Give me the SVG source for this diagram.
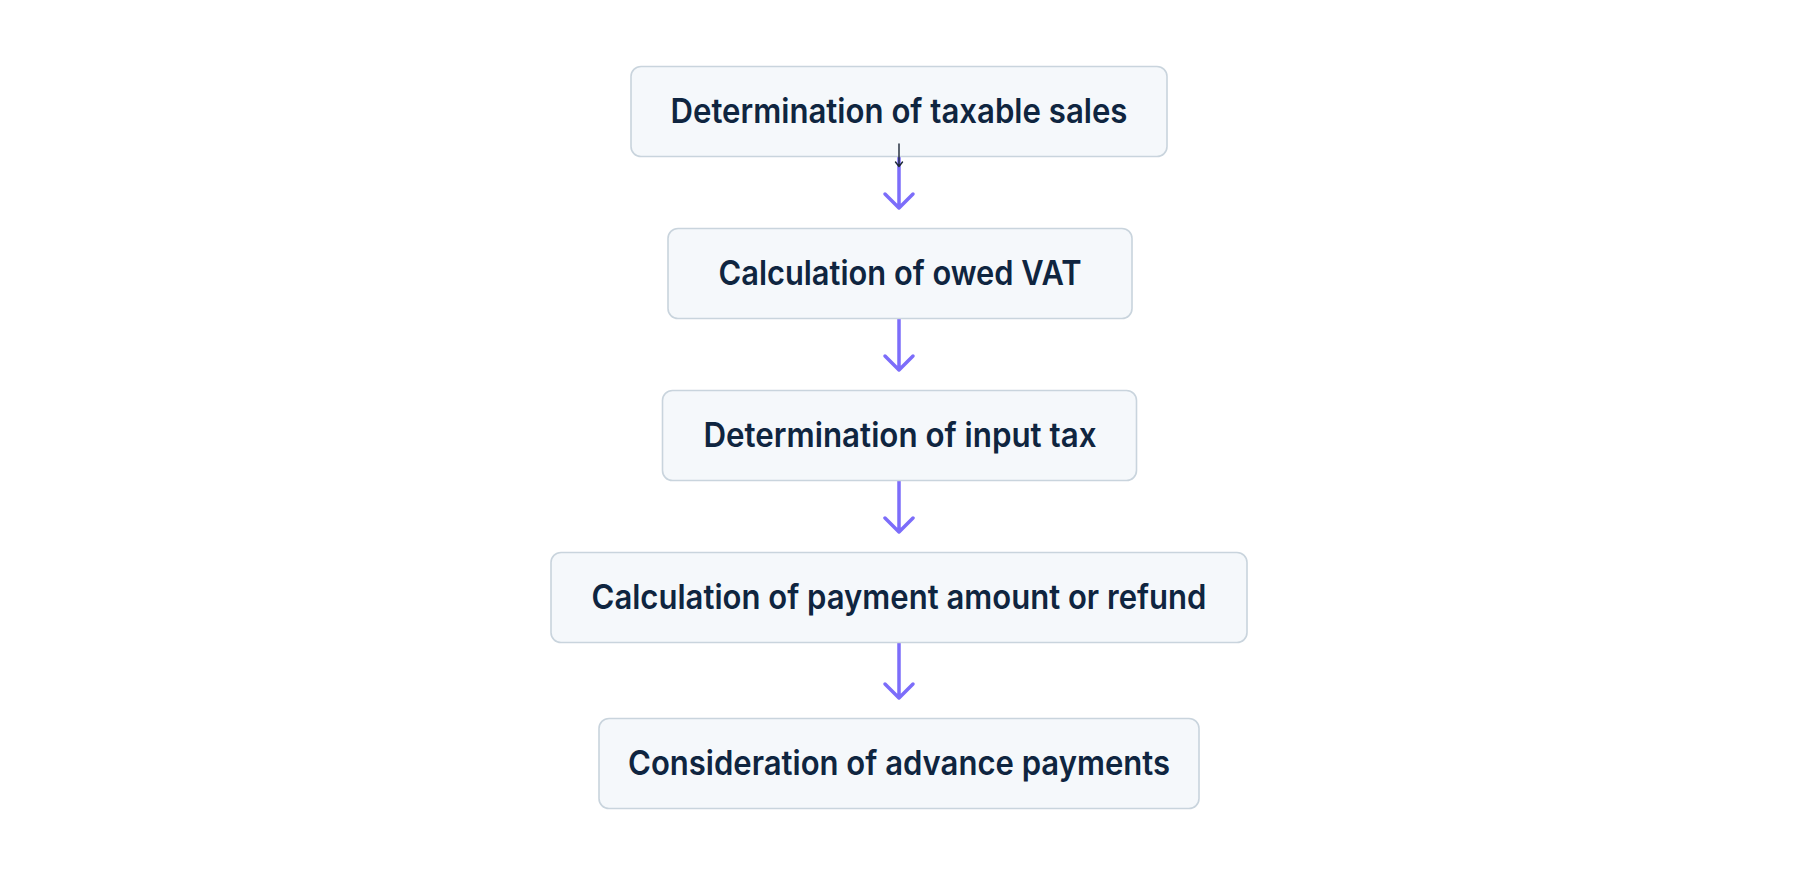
<svg xmlns="http://www.w3.org/2000/svg" width="1800" height="876" viewBox="0 0 1800 876">
<style>
.box{fill:#f5f8fb;stroke:#c9d4dd;stroke-width:1.6}
.lbl{font-family:Inter,"Noto Sans",sans-serif;font-weight:600;font-size:33.5px;fill:#0f2540;text-anchor:middle}
.edge{stroke:#7c6dfa;stroke-width:3.5;fill:none;stroke-linecap:round;stroke-linejoin:round}
.thin{stroke:#1a2636;stroke-width:1.4;fill:none;stroke-linecap:round;stroke-linejoin:round}
</style>
<rect width="1800" height="876" fill="#ffffff"/>
<g id="connectors">
<path class="edge" d="M899,157 V208 M885,194 L899,208 L913,194"/>
<path class="edge" d="M899,319 V370 M885,356 L899,370 L913,356"/>
<path class="edge" d="M899,481 V532 M885,518 L899,532 L913,518"/>
<path class="edge" d="M899,643 V698 M885,684 L899,698 L913,684"/>
</g>
<g id="n1"><rect class="box" x="631" y="66.5" width="536" height="90" rx="10"/><text class="lbl" x="899" y="123" textLength="457" lengthAdjust="spacingAndGlyphs">Determination of taxable sales</text></g>
<g id="n2"><rect class="box" x="668" y="228.5" width="464" height="90" rx="10"/><text class="lbl" x="900" y="285" textLength="363" lengthAdjust="spacingAndGlyphs">Calculation of owed VAT</text></g>
<g id="n3"><rect class="box" x="662.5" y="390.5" width="474" height="90" rx="10"/><text class="lbl" x="900" y="447" textLength="393" lengthAdjust="spacingAndGlyphs">Determination of input tax</text></g>
<g id="n4"><rect class="box" x="551" y="552.5" width="696" height="90" rx="10"/><text class="lbl" x="899" y="609" textLength="615" lengthAdjust="spacingAndGlyphs">Calculation of payment amount or refund</text></g>
<g id="n5"><rect class="box" x="599" y="718.5" width="600" height="90" rx="10"/><text class="lbl" x="899" y="775" textLength="542" lengthAdjust="spacingAndGlyphs">Consideration of advance payments</text></g>
<g id="connectors-extra">
<path class="thin" d="M899,144 V166.5 M895.5,162 L899,166.5 L902.5,162"/>
</g>
</svg>
